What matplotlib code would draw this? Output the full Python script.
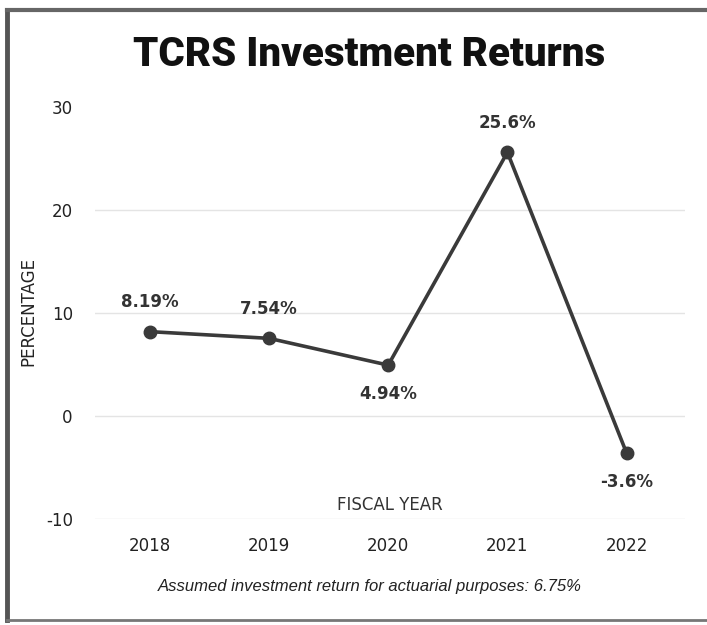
import matplotlib.pyplot as plt
from matplotlib.lines import Line2D

plt.rcParams['axes.unicode_minus'] = False

# data
years = [2018, 2019, 2020, 2021, 2022]
returns = [8.19, 7.54, 4.94, 25.6, -3.6]
labels = ['8.19%', '7.54%', '4.94%', '25.6%', '-3.6%']
label_side = [1, 1, -1, 1, -1]  # 1 = above, -1 = below
yticks = [-10, 0, 10, 20, 30]

fig = plt.figure(figsize=(7.07, 6.25), dpi=100)
ax = fig.add_axes([95 / 707, 1 - 519 / 625, 590 / 707, 412 / 625])

ax.plot(years, returns, color='#3a3a3a', lw=2.6, marker='o', ms=9, zorder=3)

for x, y, t, s in zip(years, returns, labels, label_side):
    ax.annotate(t, (x, y), textcoords='offset points', xytext=(0, 21 * s),
                ha='center', va='center', fontsize=12, fontweight='bold',
                color='#333333', family='DejaVu Sans')

ax.set_xlim(2017.54, 2022.49)
ax.set_ylim(-10, 30)
ax.set_xticks(years)
ax.set_yticks(yticks)
ax.tick_params(length=0, labelsize=12, colors='#222222')
ax.tick_params(axis='y', pad=16)
ax.tick_params(axis='x', pad=13)
for s in ax.spines.values():
    s.set_visible(False)
for v in yticks[:-1]:
    ax.axhline(v, color='#e4e4e4', lw=1, zorder=0)

ax.text(0.5, 0.035, 'FISCAL YEAR', transform=ax.transAxes, ha='center',
        va='center', fontsize=12, color='#333333')
fig.text(28 / 707, 1 - 311 / 625, 'PERCENTAGE', rotation=90, ha='center',
         va='center', fontsize=12, color='#222222')

fig.text(369 / 707, 1 - 55 / 625, 'TCRS Investment Returns', ha='center',
         va='center', fontsize=29, fontweight='black', family='Roboto',
         color='#111111')
fig.text(370 / 707, 1 - 586 / 625,
         'Assumed investment return for actuarial purposes: 6.75%',
         ha='center', va='center', fontsize=12, style='italic',
         family='Liberation Sans', color='#222222')

# scanned frame
fig.add_artist(Line2D([7 / 707, 7 / 707], [1 - 10 / 625, 1 - 620 / 625],
                      transform=fig.transFigure, color='#555555', lw=3.5))
fig.add_artist(Line2D([7 / 707, 1], [1 - 10 / 625, 1 - 10 / 625],
                      transform=fig.transFigure, color='#666666', lw=3))
fig.add_artist(Line2D([7 / 707, 1], [1 - 620 / 625, 1 - 620 / 625],
                      transform=fig.transFigure, color='#777777', lw=2))

fig.savefig('out.png', dpi=100)
